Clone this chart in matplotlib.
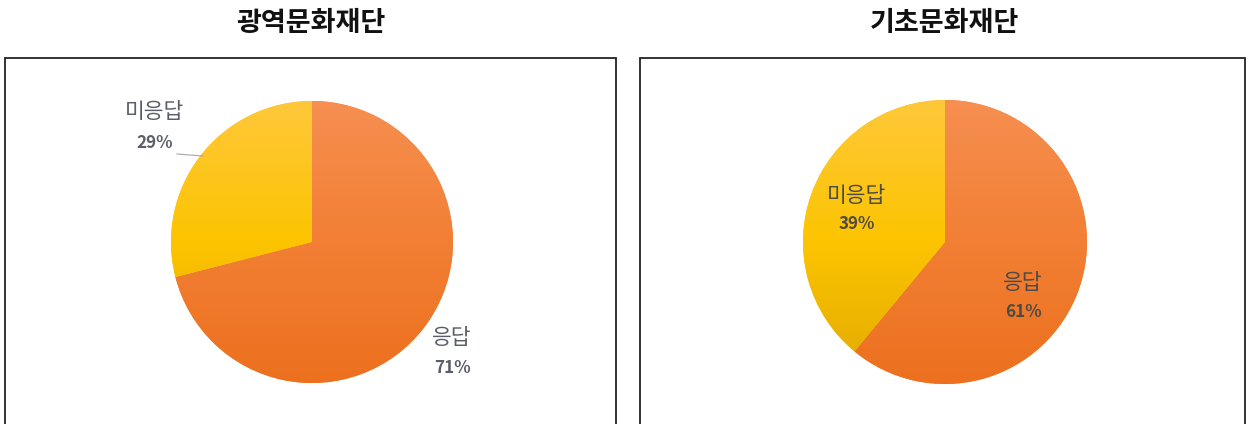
import numpy as np
import matplotlib
matplotlib.use("Agg")
import matplotlib.pyplot as plt
from matplotlib.patches import Rectangle
from matplotlib.colors import LinearSegmentedColormap

plt.rcParams['font.family'] = ['Noto Sans CJK KR', 'DejaVu Sans']

titles = ["광역문화재단", "기초문화재단"]
categories = ["응답", "미응답"]
values_left = [71, 29]
values_right = [61, 39]

W, H = 1249, 424
fig = plt.figure(figsize=(W / 100, H / 100), dpi=100)
ax = fig.add_axes([0, 0, 1, 1])
ax.set_xlim(0, W)
ax.set_ylim(0, H)
ax.set_aspect('equal')
ax.axis('off')

def py(y):
    return H - y

# frames
for x0, x1 in [(5, 616), (640, 1245)]:
    ax.add_patch(Rectangle((x0, py(424 + 5)), x1 - x0, (424 + 5) - 58,
                           fill=False, edgecolor='#222222', lw=1.3))

orange_cmap = LinearSegmentedColormap.from_list('o', ['#EC701E', '#F27F34', '#F68F50'])
yellow_cmap = LinearSegmentedColormap.from_list('y', ['#E2AA00', '#FCC400', '#FFC83A'])
cmaps = [orange_cmap, yellow_cmap]

panels = [
    dict(vals=values_left, cx=312, cy=242, r=141, tx=311,
         labels=[(452, 338, 368), (155, 112, 143)]),
    dict(vals=values_right, cx=945, cy=242, r=142, tx=944,
         labels=[(1023, 283, 312), (857, 196, 224)]),
]

grad = np.linspace(0, 1, 256).reshape(-1, 1)

for i, p in enumerate(panels):
    wedges, _ = ax.pie(p['vals'], startangle=90, counterclock=False,
                       center=(p['cx'], py(p['cy'])), radius=p['r'],
                       colors=['#F47F2F', '#FFC000'], frame=True,
                       wedgeprops=dict(linewidth=0))
    for w, cm in zip(wedges, cmaps):
        im = ax.imshow(grad, cmap=cm, origin='lower', aspect='auto',
                       extent=(p['cx'] - p['r'], p['cx'] + p['r'],
                               py(p['cy']) - p['r'], py(p['cy']) + p['r']),
                       zorder=2)
        im.set_clip_path(w)
    ax.text(p['tx'], py(23), titles[i], ha='center', va='center',
            fontsize=19.5, color='#111111', fontweight='bold')
    for j, (lx, ly1, ly2) in enumerate(p['labels']):
        col = '#5A5E68' if i == 0 else '#4E4A44'
        ax.text(lx, py(ly1), categories[j], ha='center', va='center',
                fontsize=15.5, color=col, fontweight='medium', zorder=5)
        ax.text(lx, py(ly2), f"{p['vals'][j]}%", ha='center', va='center',
                fontsize=12.3, color=col, fontweight='bold', zorder=5)

# leader line for left 미응답
ax.plot([177, 203], [py(154), py(156)], color='#A6A6A6', lw=0.8, zorder=4)

ax.set_xlim(0, W)
ax.set_ylim(0, H)
ax.axis('off')
fig.savefig('out.png', dpi=100)
